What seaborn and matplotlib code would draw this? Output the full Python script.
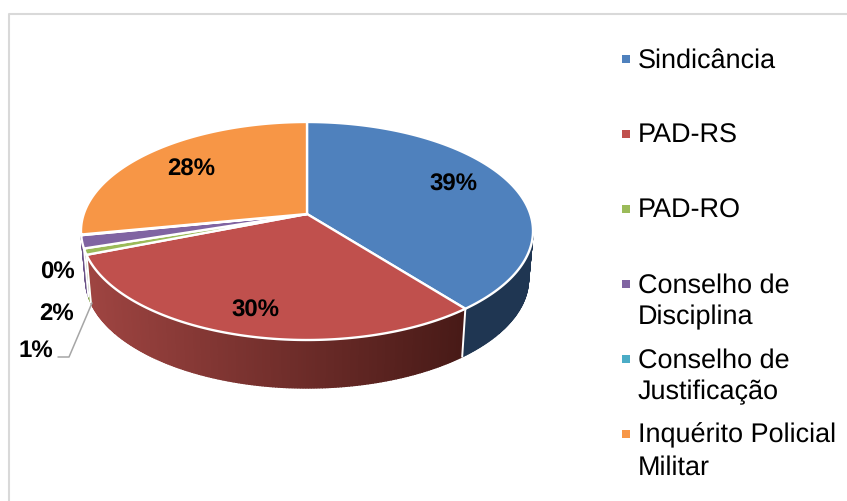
import numpy as np
import matplotlib.pyplot as plt
from matplotlib.patches import Polygon, Rectangle
import seaborn as sns

sns.set_theme(style="white")
plt.rcParams['font.family'] = ['Liberation Sans', 'DejaVu Sans']
plt.rcParams['text.hinting'] = 'no_hinting'
plt.rcParams['text.hinting_factor'] = 1

categories = ['Sindicância', 'PAD-RS', 'PAD-RO', 'Conselho de\nDisciplina',
              'Conselho de\nJustificação', 'Inquérito Policial\nMilitar']
values = [39.3, 29.8, 0.9, 1.9, 0.1, 28.0]
colors = sns.color_palette(['#4F81BD', '#C0504D', '#9BBB59', '#8064A2', '#4BACC6', '#F79646'])
wall_colors = ['#1F3652', None, '#7F9C45', '#6A5287', None, None]

# ellipse of the tilted pie, in pixels
cx, cy, rx, ry = 307, 231, 226, 109
depth = 48
tilt = -0.156  # moves the apex up, like the perspective in the original


def project(deg):
    t = np.radians(deg)
    u, v = np.sin(t), -np.cos(t)
    d = 1 + tilt * v
    return cx + rx * u * np.sqrt(1 - tilt ** 2) / d, cy + ry * (v + tilt) / d


def red_shade(x):
    # the red wall gets darker from left to right
    f = np.clip((x - 90) / (463 - 90), 0, 1)
    light = np.array([158, 68, 65]) / 255
    dark = np.array([72, 26, 23]) / 255
    return light + (dark - light) * f


fig, ax = plt.subplots(figsize=(8.47, 5.01), dpi=100)
ax.set_position([0, 0, 1, 1])
ax.set_xlim(0, 847)
ax.set_ylim(501, 0)
ax.axis('off')

# the chart frame only shows at the top and on the left
ax.plot([9, 9, 847], [501, 14, 14], color='#D9D9D9', lw=1.5, zorder=1)

edges = np.cumsum([0] + values) / sum(values) * 360

# side wall first, the top face goes over it
for i, val in enumerate(values):
    if i in (4, 5):
        continue
    a = np.linspace(edges[i], edges[i + 1], max(int(val * 6), 4))
    x, y = project(a)
    xb = cx + (x - cx) * 0.98
    yb = y + depth
    for j in range(len(a) - 1):
        if y[j] < cy and y[j + 1] < cy:
            continue
        col = red_shade(x[j]) if wall_colors[i] is None else wall_colors[i]
        ax.add_patch(Polygon([(x[j], y[j]), (x[j + 1], y[j + 1]), (xb[j + 1], yb[j + 1]), (xb[j], yb[j])],
                             fc=col, ec=col, lw=1.0, zorder=2))
    # white seam at the end of the slice
    if y[-1] > cy and i < 3:
        ax.plot([x[-1], xb[-1]], [y[-1], yb[-1]], color='white', lw=1.4, zorder=3)

apex = (cx, cy + ry * tilt)
for i, val in enumerate(values):
    a = np.linspace(edges[i], edges[i + 1], 120)
    x, y = project(a)
    pts = [apex] + list(zip(x, y))
    ax.add_patch(Polygon(pts, fc=colors[i], ec='white', lw=1.7, joinstyle='round', zorder=4))

# data labels
label_pos = [(453, 185), (255, 311), (36, 351), (57, 314), (57, 273), (191, 170)]
for val, (lx, ly) in zip(values, label_pos):
    ax.text(lx, ly, f'{val:.0f}%', fontsize=17.6, fontweight='bold', color='black',
            ha='center', va='center', zorder=6)

# leader line for the 1% label
ax.plot([92, 69, 58], [303, 357, 357], color='#A6A6A6', lw=1.1, zorder=5)

# legend, one entry every 75 px
for i, name in enumerate(categories):
    ly = 59 + 75 * i
    ax.add_patch(Rectangle((622, ly - 4), 8, 8, fc=colors[i], ec='none'))
    ax.text(638, ly - 11, name, fontsize=19.2, color='black', ha='left', va='top', linespacing=1.33)

plt.savefig('out.png', dpi=100)
